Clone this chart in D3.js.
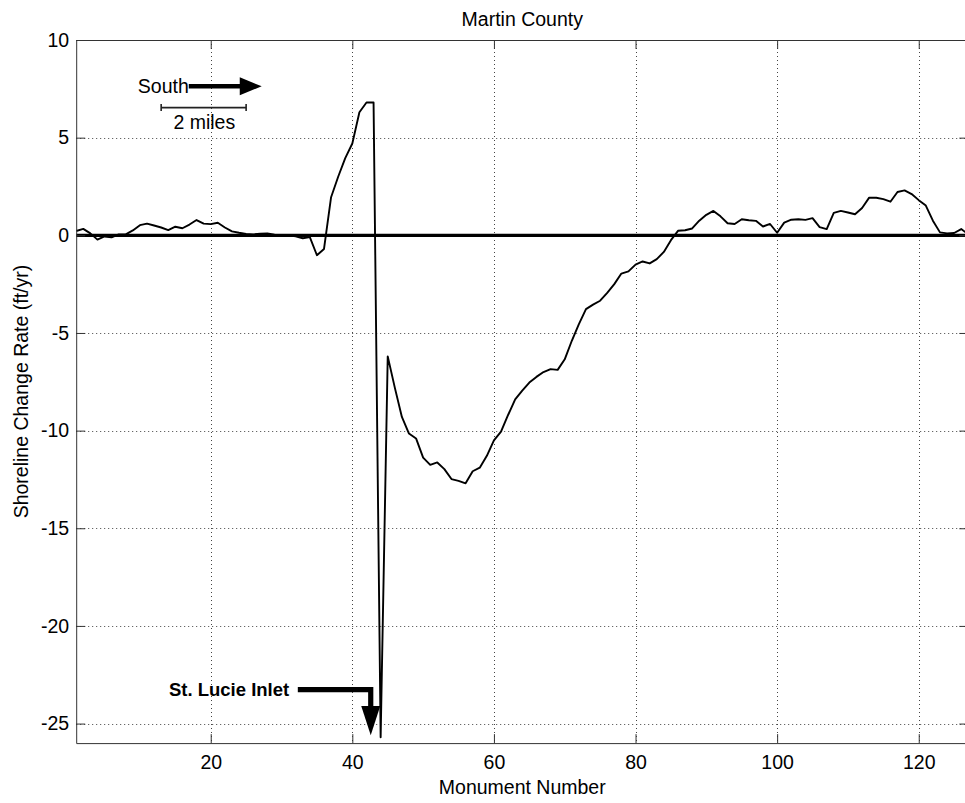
<!DOCTYPE html>
<html>
<head>
<meta charset="utf-8">
<script src="https://cdn.jsdelivr.net/npm/d3@7"></script>
<style>
  body { margin: 0; background: #fff; }
  svg { display: block; }
  text { font-family: "Liberation Sans", Arial, Helvetica, sans-serif; fill: #000; }
</style>
</head>
<body>
<svg id="chart" width="965" height="803"></svg>
<script>
// ---------- data ----------
const monuments = [
  1,2,3,4,5,6,7,8,9,10,
  11,12,13,14,15,16,17,18,19,20,
  21,22,23,24,25,26,27,28,29,30,
  31,32,33,34,35,36,37,38,39,40,
  41,42,43,44,45,46,47,48,49,50,
  51,52,53,54,55,56,57,58,59,60,
  61,62,63,64,65,66,67,68,69,70,
  71,72,73,74,75,76,77,78,79,80,
  81,82,83,84,85,86,87,88,89,90,
  91,92,93,94,95,96,97,98,99,100,
  101,102,103,104,105,106,107,108,109,110,
  111,112,113,114,115,116,117,118,119,120,
  121,122,123,124,125,126,127
];
const rates = [
  0.22, 0.33, 0.1, -0.22, -0.06, -0.1, 0.05, 0.05, 0.25, 0.52,
  0.6, 0.5, 0.4, 0.27, 0.44, 0.36, 0.55, 0.78, 0.6, 0.57,
  0.64, 0.4, 0.2, 0.13, 0.07, 0.05, 0.08, 0.1, 0.03, 0.0,
  0.0, -0.05, -0.15, -0.09, -1.02, -0.7, 1.95, 3.0, 3.95, 4.7,
  6.3, 6.8, 6.8, -25.7, -6.2, -7.8, -9.3, -10.15, -10.4, -11.38,
  -11.75, -11.63, -11.97, -12.48, -12.57, -12.7, -12.08, -11.9, -11.29, -10.5,
  -10.05, -9.2, -8.4, -7.95, -7.54, -7.25, -7.0, -6.85, -6.89, -6.35,
  -5.4, -4.55, -3.78, -3.55, -3.35, -2.95, -2.5, -1.96, -1.85, -1.5,
  -1.34, -1.44, -1.22, -0.85, -0.25, 0.23, 0.26, 0.35, 0.75, 1.05,
  1.25, 0.97, 0.62, 0.58, 0.82, 0.77, 0.74, 0.45, 0.58, 0.13,
  0.65, 0.8, 0.82, 0.79, 0.88, 0.42, 0.32, 1.15, 1.25, 1.17,
  1.08, 1.4, 1.93, 1.92, 1.85, 1.72, 2.22, 2.3, 2.11, 1.8,
  1.52, 0.75, 0.15, 0.1, 0.12, 0.32, 0.05
];
const xTicks = [20, 40, 60, 80, 100, 120];
const yTicks = [-25, -20, -15, -10, -5, 0, 5, 10];
const titleText = "Martin County";
const xLabelText = "Monument Number";
const yLabelText = "Shoreline Change Rate (ft/yr)";
const directionLabel = "South";
const scaleLabel = "2 miles";
const inletLabel = "St. Lucie Inlet";

// ---------- layout ----------
const svg = d3.select("#chart");
const pL = 76.2, pR = 968.3, pT = 40, pB = 743.1;
const x = d3.scaleLinear().domain([1, 127]).range([pL, pR]);
const y = d3.scaleLinear().domain([-26, 10]).range([pB, pT]);
const FS = 19.5;

svg.append("rect").attr("width", 965).attr("height", 803).attr("fill", "#fff");

svg.append("defs").append("clipPath").attr("id", "plotclip")
  .append("rect").attr("x", pL).attr("y", pT)
  .attr("width", pR - pL).attr("height", pB - pT);

// grid
const grid = svg.append("g").attr("stroke", "#444").attr("stroke-width", 1)
  .attr("stroke-dasharray", "1,3").attr("fill", "none");
grid.selectAll("line.v").data(xTicks).join("line").attr("class", "v")
  .attr("x1", d => Math.round(x(d)) + 0.5).attr("x2", d => Math.round(x(d)) + 0.5)
  .attr("y1", pT).attr("y2", pB);
grid.selectAll("line.h").data(yTicks).join("line").attr("class", "h")
  .attr("y1", d => Math.round(y(d)) + 0.5).attr("y2", d => Math.round(y(d)) + 0.5)
  .attr("x1", pL).attr("x2", pR);

// zero line
svg.append("line")
  .attr("x1", pL).attr("x2", pR)
  .attr("y1", y(0)).attr("y2", y(0))
  .attr("stroke", "#000").attr("stroke-width", 3.2);

// data line
const pts = monuments.map((m, i) => [m, rates[i]]);
svg.append("path")
  .attr("clip-path", "url(#plotclip)")
  .attr("d", d3.line().x(d => x(d[0])).y(d => y(d[1]))(pts))
  .attr("fill", "none").attr("stroke", "#000").attr("stroke-width", 1.9)
  .attr("stroke-linejoin", "round");

// axes
function styleAxis(g) {
  g.selectAll("path.domain").attr("stroke", "#333").attr("stroke-width", 1);
  g.selectAll(".tick line").attr("stroke", "#333").attr("stroke-width", 1);
  g.selectAll("text").attr("font-size", FS).attr("fill", "#000")
    .attr("font-family", "\"Liberation Sans\", Arial, Helvetica, sans-serif");
}
const gx = svg.append("g").attr("transform", `translate(0,${pB})`)
  .call(d3.axisBottom(x).tickValues(xTicks).tickSizeInner(-9).tickSizeOuter(0).tickPadding(12.5).tickFormat(d3.format("d")));
styleAxis(gx);
const gy = svg.append("g").attr("transform", `translate(${pL},0)`)
  .call(d3.axisLeft(y).tickValues(yTicks).tickSizeInner(-9).tickSizeOuter(0).tickPadding(7).tickFormat(d => d < 0 ? "-" + Math.abs(d) : String(d)));
styleAxis(gy);
const gt = svg.append("g").attr("transform", `translate(0,${pT})`)
  .call(d3.axisTop(x).tickValues(xTicks).tickSizeInner(-9).tickSizeOuter(0).tickFormat(""));
styleAxis(gt);
const gr = svg.append("g").attr("transform", `translate(${pR},0)`)
  .call(d3.axisRight(y).tickValues(yTicks).tickSizeInner(-9).tickSizeOuter(0).tickFormat(""));
styleAxis(gr);

// titles
svg.append("text").attr("x", (pL + pR) / 2).attr("y", 26)
  .attr("text-anchor", "middle").attr("font-size", FS).text(titleText);
svg.append("text").attr("x", (pL + pR) / 2).attr("y", 794)
  .attr("text-anchor", "middle").attr("font-size", FS).text(xLabelText);
svg.append("text")
  .attr("transform", `translate(28,${(pT + pB) / 2}) rotate(-90)`)
  .attr("text-anchor", "middle").attr("font-size", FS).text(yLabelText);

// South arrow
const sY = y(7.63);
svg.append("text").attr("x", x(16.9)).attr("y", sY + 7)
  .attr("text-anchor", "end").attr("font-size", FS).text(directionLabel);
svg.append("line").attr("x1", x(16.9)).attr("x2", x(24.4))
  .attr("y1", sY).attr("y2", sY).attr("stroke", "#000").attr("stroke-width", 4.6);
svg.append("path")
  .attr("d", `M${x(24.1)},${sY - 9} L${x(27.2)},${sY} L${x(24.1)},${sY + 9} Z`)
  .attr("fill", "#000");

// 2 miles scale bar
const bY = y(6.54);
const sb = svg.append("g").attr("stroke", "#222").attr("stroke-width", 1.6);
sb.append("line").attr("x1", x(13)).attr("x2", x(25)).attr("y1", bY).attr("y2", bY);
sb.append("line").attr("x1", x(13)).attr("x2", x(13)).attr("y1", bY - 3.5).attr("y2", bY + 3.5);
sb.append("line").attr("x1", x(25)).attr("x2", x(25)).attr("y1", bY - 3.5).attr("y2", bY + 3.5);
svg.append("text").attr("x", x(19.1)).attr("y", 128.5)
  .attr("text-anchor", "middle").attr("font-size", FS).text(scaleLabel);

// St. Lucie Inlet annotation
const iY = y(-23.26);
svg.append("text").attr("x", x(14.1)).attr("y", iY + 6)
  .attr("font-size", 18.5).attr("font-weight", "bold").text(inletLabel);
svg.append("path")
  .attr("d", `M${x(32.3)},${iY} L${x(42.6)},${iY} L${x(42.6)},${y(-24.3)}`)
  .attr("fill", "none").attr("stroke", "#000").attr("stroke-width", 5.2)
  .attr("stroke-linejoin", "miter");
svg.append("path")
  .attr("d", `M${x(42.6) - 9.5},${y(-24.1)} L${x(42.6) + 9.5},${y(-24.1)} L${x(42.6)},${y(-25.6)} Z`)
  .attr("fill", "#000");
</script>
</body>
</html>
